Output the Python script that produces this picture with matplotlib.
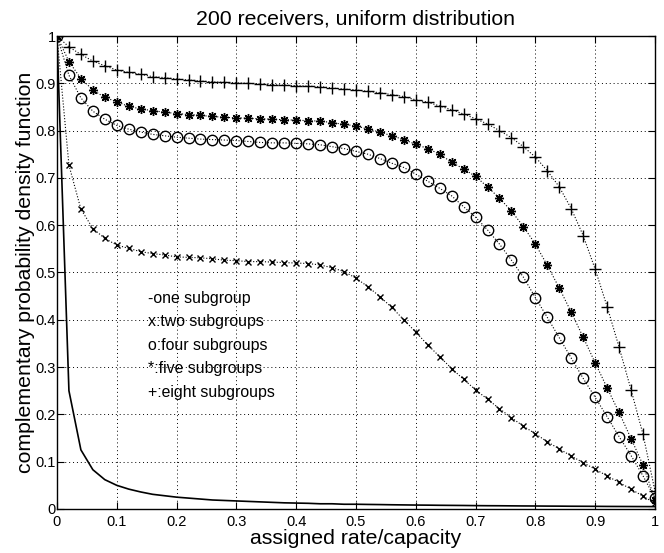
import matplotlib
matplotlib.use("Agg")
import matplotlib.pyplot as plt

plt.rcParams['font.family'] = ['Liberation Sans', 'DejaVu Sans']

rate = [0.00, 0.02, 0.04, 0.06, 0.08, 0.10, 0.12, 0.14, 0.16, 0.18,
        0.20, 0.22, 0.24, 0.26, 0.28, 0.30, 0.32, 0.34, 0.36, 0.38,
        0.40, 0.42, 0.44, 0.46, 0.48, 0.50, 0.52, 0.54, 0.56, 0.58,
        0.60, 0.62, 0.64, 0.66, 0.68, 0.70, 0.72, 0.74, 0.76, 0.78,
        0.80, 0.82, 0.84, 0.86, 0.88, 0.90, 0.92, 0.94, 0.96, 0.98, 1.00]

one_subgroup = [1.0, 0.25, 0.125, 0.083, 0.062, 0.050, 0.042, 0.036, 0.031, 0.028,
                0.025, 0.023, 0.021, 0.019, 0.018, 0.017, 0.016, 0.015, 0.014, 0.013,
                0.0125, 0.012, 0.011, 0.011, 0.010, 0.010, 0.0096, 0.0093, 0.0089, 0.0086,
                0.0083, 0.0081, 0.0078, 0.0076, 0.0074, 0.0071, 0.0069, 0.0068, 0.0066, 0.0064,
                0.0063, 0.0061, 0.0060, 0.0058, 0.0057, 0.0056, 0.0054, 0.0053, 0.0052, 0.0051, 0.0050]

two_subgroups = [1.0, 0.727, 0.634, 0.593, 0.572, 0.558, 0.551, 0.544, 0.540, 0.537,
                 0.533, 0.532, 0.531, 0.529, 0.526, 0.525, 0.523, 0.523, 0.522, 0.521,
                 0.520, 0.519, 0.516, 0.510, 0.502, 0.488, 0.470, 0.449, 0.426, 0.400,
                 0.374, 0.347, 0.322, 0.297, 0.274, 0.252, 0.232, 0.212, 0.193, 0.175,
                 0.159, 0.142, 0.127, 0.112, 0.098, 0.084, 0.070, 0.056, 0.042, 0.027, 0.012]

four_subgroups = [1.0, 0.917, 0.869, 0.841, 0.824, 0.811, 0.803, 0.797, 0.792, 0.789,
                  0.786, 0.784, 0.782, 0.781, 0.780, 0.779, 0.777, 0.775, 0.774, 0.774,
                  0.773, 0.772, 0.770, 0.766, 0.762, 0.756, 0.750, 0.741, 0.731, 0.722,
                  0.708, 0.693, 0.678, 0.662, 0.639, 0.617, 0.590, 0.560, 0.526, 0.490,
                  0.447, 0.405, 0.362, 0.319, 0.276, 0.236, 0.195, 0.153, 0.113, 0.070, 0.023]

five_subgroups = [1.0, 0.946, 0.910, 0.886, 0.870, 0.861, 0.851, 0.846, 0.842, 0.839,
                  0.836, 0.834, 0.832, 0.830, 0.828, 0.827, 0.826, 0.825, 0.824, 0.823,
                  0.822, 0.821, 0.820, 0.817, 0.813, 0.810, 0.803, 0.797, 0.789, 0.781,
                  0.771, 0.762, 0.750, 0.733, 0.719, 0.703, 0.681, 0.657, 0.630, 0.597,
                  0.560, 0.515, 0.467, 0.416, 0.363, 0.309, 0.256, 0.204, 0.149, 0.093, 0.020]

eight_subgroups = [1.0, 0.977, 0.961, 0.947, 0.937, 0.928, 0.923, 0.919, 0.914, 0.912,
                   0.909, 0.907, 0.905, 0.903, 0.902, 0.901, 0.900, 0.898, 0.897, 0.896,
                   0.895, 0.894, 0.893, 0.890, 0.888, 0.886, 0.883, 0.880, 0.876, 0.872,
                   0.865, 0.860, 0.852, 0.844, 0.835, 0.825, 0.814, 0.800, 0.785, 0.766,
                   0.744, 0.715, 0.681, 0.635, 0.578, 0.507, 0.428, 0.342, 0.252, 0.158, 0.038]

legend_lines = ["-one subgroup", "x:two subgroups", "o:four subgroups",
                "*:five subgroups", "+:eight subgroups"]

tick_vals = [0, 0.1, 0.2, 0.3, 0.4, 0.5, 0.6, 0.7, 0.8, 0.9, 1]
tick_labels = ["0", "0.1", "0.2", "0.3", "0.4", "0.5", "0.6", "0.7", "0.8", "0.9", "1"]

fig = plt.figure(figsize=(6.64, 5.53), dpi=100)
ax = fig.add_axes([0.0858, 0.0796, 0.9006, 0.8553])

ax.plot(rate, one_subgroup, '-', color='black', lw=1.2)
ax.plot(rate, two_subgroups, ':', color='black', lw=0.8, marker='x', ms=5, mew=1.0)
ax.plot(rate, four_subgroups, ':', color='black', lw=0.8, marker='o', ms=7.5,
        mfc='none', mew=1.0)
ax.plot(rate, five_subgroups, ':', color='black', lw=0.8, marker=(8, 2, 0), ms=6.5, mew=1.0)
ax.plot(rate, eight_subgroups, ':', color='black', lw=0.8, marker='+', ms=8, mew=1.0)

ax.set_xlim(0, 1)
ax.set_ylim(0, 1)
ax.set_xticks(tick_vals)
ax.set_xticklabels(tick_labels)
ax.set_yticks(tick_vals)
ax.set_yticklabels(tick_labels)
ax.tick_params(direction='in', length=5, width=0.8, top=True, right=True,
               labelsize=10.5, pad=4)
ax.tick_params(axis='y', pad=1)
ax.grid(True, linestyle=(0, (1, 3)), color='black', lw=0.7)
for s in ax.spines.values():
    s.set_linewidth(1.0)

for i, t in enumerate(legend_lines):
    ax.text(0.152, 0.446 - i * 0.0497, t, fontsize=11.4, va='center', ha='left')

ax.set_title("200 receivers, uniform distribution", fontsize=15.3, pad=8)
ax.set_xlabel("assigned rate/capacity", fontsize=15.3, labelpad=0)
ax.set_ylabel("complementary probability density function", fontsize=15.3, labelpad=0)

fig.savefig("out.png", dpi=100)
